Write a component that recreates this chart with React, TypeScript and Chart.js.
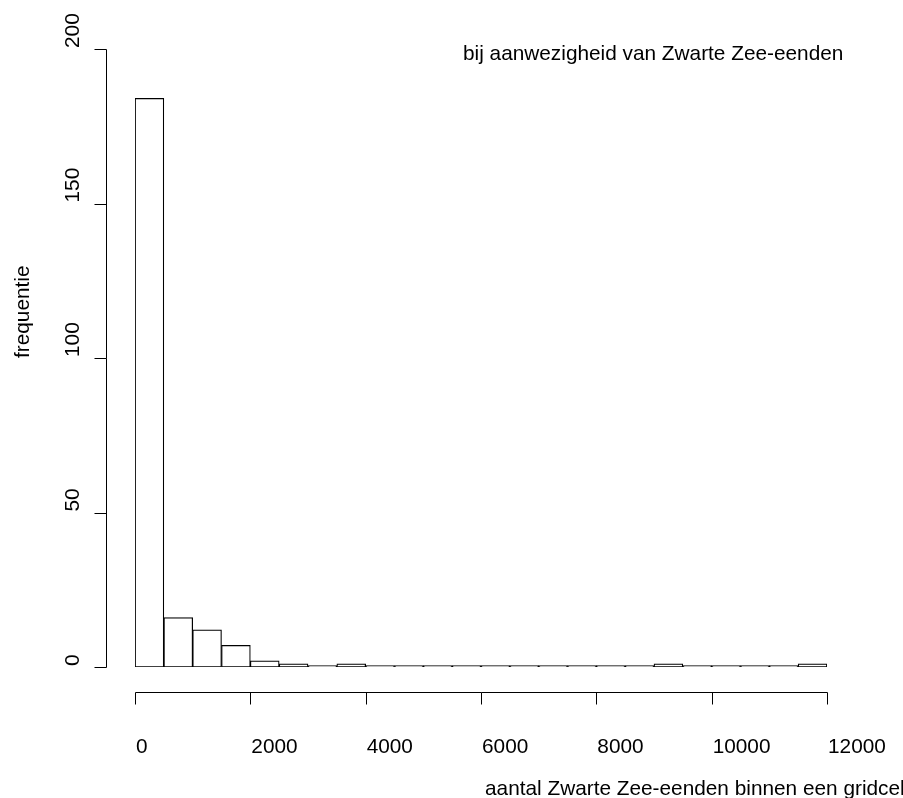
import React, { useEffect, useRef } from "react";
import { Chart, registerables } from "chart.js";

Chart.register(...registerables);

// bin midpoints (bins of width 500 from 0 to 12000)
const binMids = [
  250, 750, 1250, 1750, 2250, 2750, 3250, 3750, 4250, 4750, 5250, 5750,
  6250, 6750, 7250, 7750, 8250, 8750, 9250, 9750, 10250, 10750, 11250, 11750,
];
const counts = [
  184, 16, 12, 7, 2, 1, 0, 1, 0, 0, 0, 0,
  0, 0, 0, 0, 0, 0, 1, 0, 0, 0, 0, 1,
];
const xTicks = [0, 2000, 4000, 6000, 8000, 10000, 12000];
const yTicks = [0, 50, 100, 150, 200];
const titleText = "bij aanwezigheid van Zwarte Zee-eenden";
const xTitle = "aantal Zwarte Zee-eenden binnen een gridcel";
const yTitle = "frequentie";

const FONT = '20.8px "Liberation Sans", Arial, sans-serif';

const rAxesPlugin = {
  id: "rAxes",
  afterDraw(chart: any) {
    const ctx = chart.ctx as CanvasRenderingContext2D;
    const xs = chart.scales.x;
    const ys = chart.scales.y;
    const area = chart.chartArea;
    ctx.save();
    ctx.strokeStyle = "#000";
    ctx.fillStyle = "#000";
    ctx.lineWidth = 1;
    ctx.font = FONT;

    // y axis
    const axX = 106.5;
    const y0 = Math.round(ys.getPixelForValue(yTicks[0])) + 0.5;
    const y1 = Math.round(ys.getPixelForValue(yTicks[yTicks.length - 1])) + 0.5;
    ctx.beginPath();
    ctx.moveTo(axX, y0);
    ctx.lineTo(axX, y1);
    for (const t of yTicks) {
      const py = Math.round(ys.getPixelForValue(t)) + 0.5;
      ctx.moveTo(axX, py);
      ctx.lineTo(axX - 12, py);
    }
    ctx.stroke();
    for (const t of yTicks) {
      const py = ys.getPixelForValue(t);
      ctx.save();
      ctx.translate(79, py - 1);
      ctx.rotate(-Math.PI / 2);
      ctx.textAlign = "left";
      ctx.textBaseline = "alphabetic";
      ctx.fillText(String(t), 0, 0);
      ctx.restore();
    }

    // x axis
    const axY = 692.5;
    const x0 = Math.round(xs.getPixelForValue(xTicks[0])) + 0.5;
    const x1 = Math.round(xs.getPixelForValue(xTicks[xTicks.length - 1])) + 0.5;
    ctx.beginPath();
    ctx.moveTo(x0, axY);
    ctx.lineTo(x1, axY);
    for (const t of xTicks) {
      const px = Math.round(xs.getPixelForValue(t)) + 0.5;
      ctx.moveTo(px, axY);
      ctx.lineTo(px, axY + 12);
    }
    ctx.stroke();
    ctx.textAlign = "left";
    ctx.textBaseline = "alphabetic";
    for (const t of xTicks) {
      const px = xs.getPixelForValue(t);
      ctx.fillText(String(t), px + 1, 753);
    }

    // titles
    const cx = (area.left + area.right) / 2;
    const cy = (area.top + area.bottom) / 2;
    ctx.fillText(xTitle, cx + 4, 795);
    ctx.fillText(titleText, 463, 60);
    ctx.save();
    ctx.translate(29, cy);
    ctx.rotate(-Math.PI / 2);
    ctx.textAlign = "left";
    ctx.fillText(yTitle, 0, 0);
    ctx.restore();

    ctx.restore();
  },
};

export default function App() {
  const ref = useRef<HTMLCanvasElement | null>(null);
  useEffect(() => {
    if (!ref.current) return;
    const chart = new Chart(ref.current, {
      type: "bar",
      data: {
        datasets: [
          {
            data: binMids.map((m, i) => ({ x: m, y: counts[i] })),
            backgroundColor: "#ffffff",
            borderColor: "#000000",
            borderWidth: 1.2,
            borderSkipped: false,
            barPercentage: 1,
            categoryPercentage: 1,
            minBarLength: 1.5,
          } as any,
        ],
      },
      options: {
        animation: false,
        responsive: false,
        events: [],
        layout: { padding: { left: 135, right: 76, top: 49, bottom: 131 } },
        plugins: { legend: { display: false }, tooltip: { enabled: false } },
        scales: {
          x: {
            type: "linear",
            min: 0,
            max: 12000,
            offset: false,
            display: false,
          },
          y: { type: "linear", min: 0, max: 200, display: false },
        },
      },
      plugins: [rAxesPlugin],
    });
    return () => chart.destroy();
  }, []);
  return (
    <canvas
      ref={ref}
      width={903}
      height={798}
      style={{ position: "absolute", left: 0, top: 0, display: "block", background: "#fff" }}
    />
  );
}
